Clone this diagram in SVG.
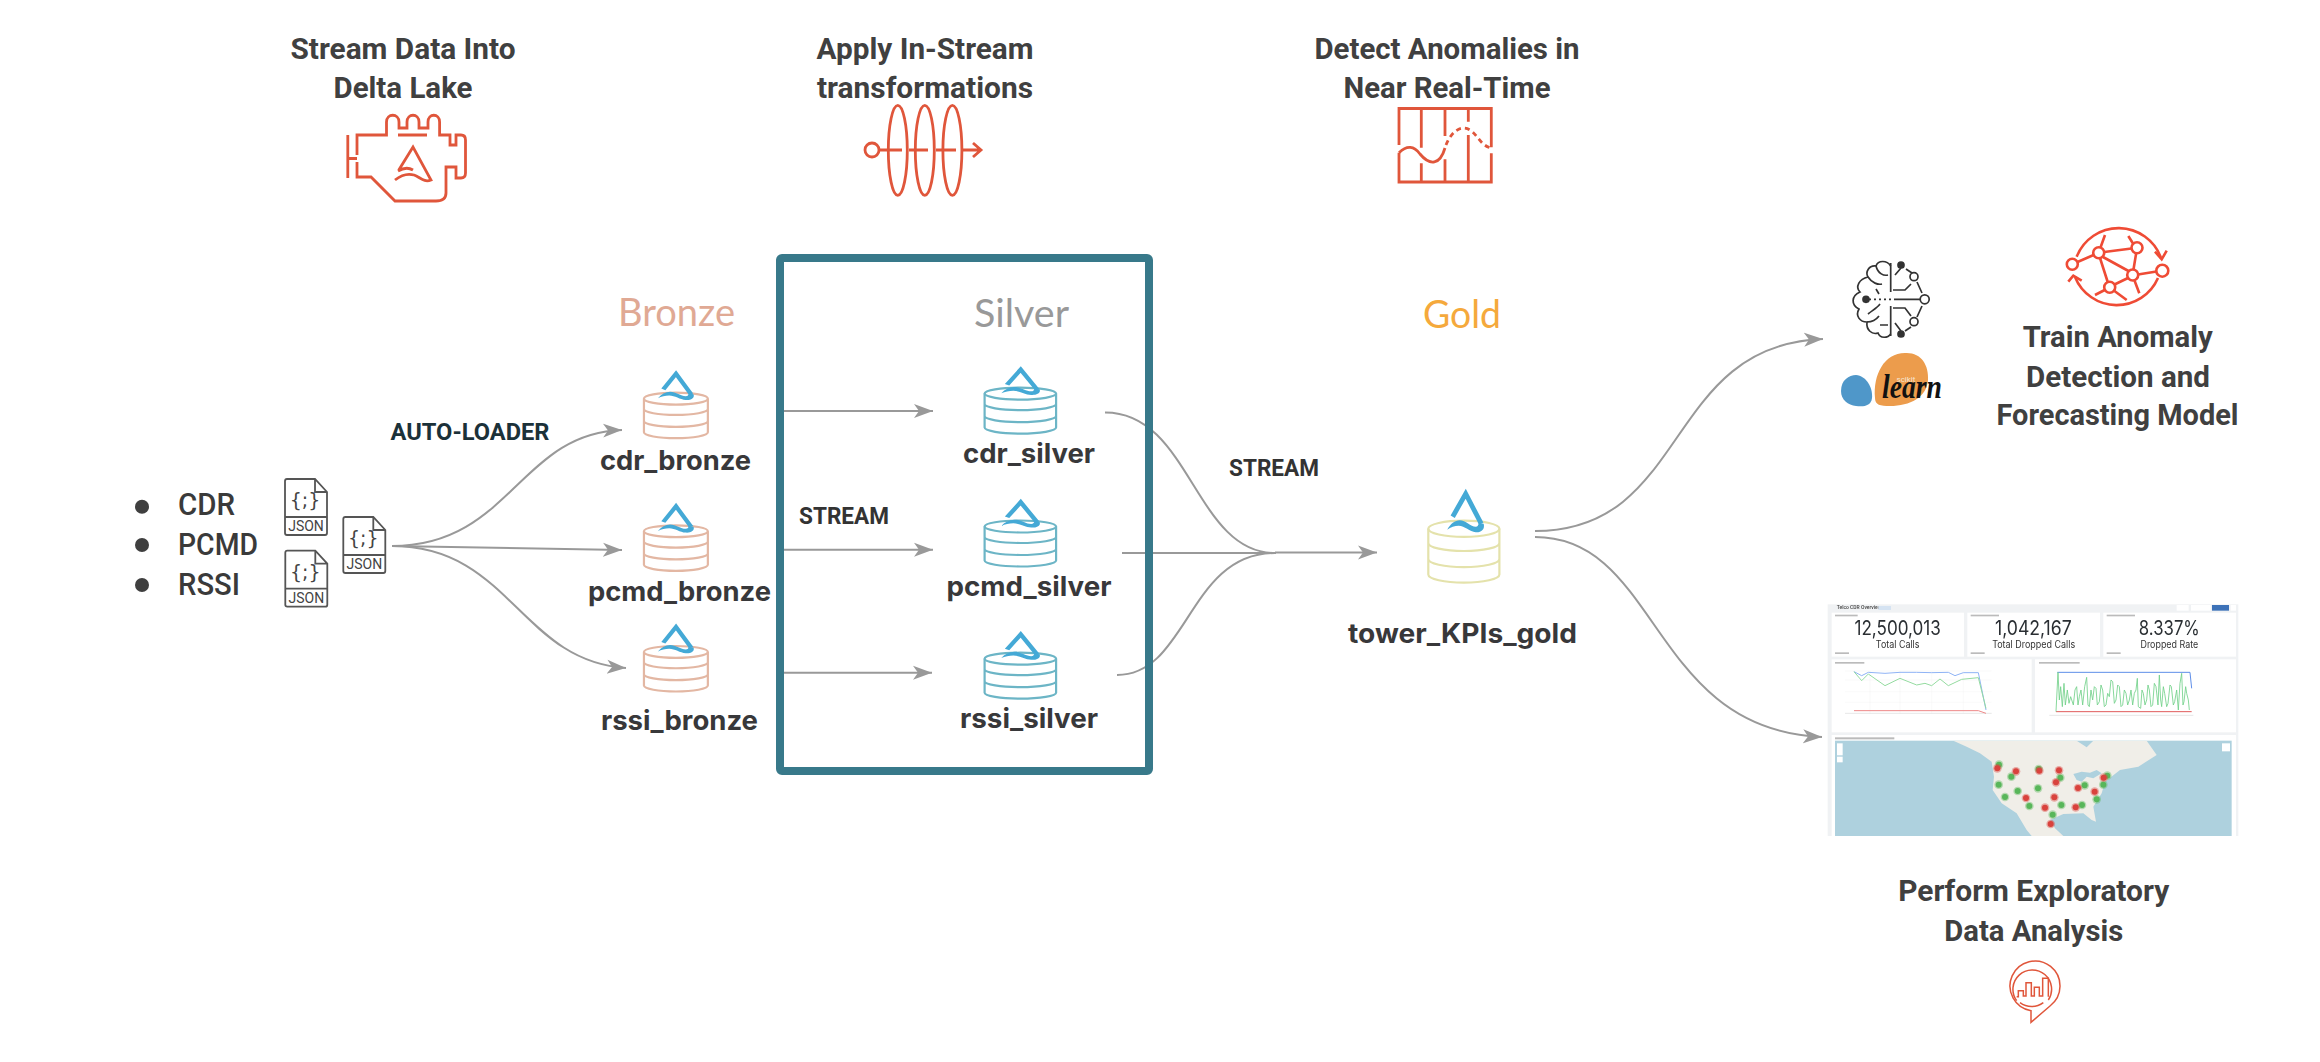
<svg xmlns="http://www.w3.org/2000/svg" width="2320" height="1062" viewBox="0 0 2320 1062">
<style>
text{font-family:"Roboto","Liberation Sans",sans-serif}
.title{font-size:29px;font-weight:700;fill:#404040;text-anchor:middle}
.tier{font-family:"Lato","Open Sans",sans-serif;font-size:39px;text-anchor:middle}
.tbl{font-family:"Inter","Liberation Sans",sans-serif;font-size:27px;font-weight:700;fill:#38383a;text-anchor:middle}
.lab{font-size:23px;font-weight:700;fill:#333;text-anchor:middle}
.src{font-size:32px;font-weight:500;fill:#3a3a3a}
.conn{fill:none;stroke:#999;stroke-width:2}
.ico{fill:none;stroke:#e0563b;stroke-width:2.8}
.net{fill:none;stroke:#ef4b35;stroke-width:2.6}
.brain{fill:none;stroke:#333;stroke-width:1.7}
.doc{fill:#fff;stroke:#555;stroke-width:1.8}
.jt{font-size:14px;fill:#444;text-anchor:middle}
.jb{font-family:"DejaVu Sans",sans-serif;font-size:19px;fill:#444;text-anchor:middle}
.card{fill:#fff}
.big{font-family:"Inter","Liberation Sans",sans-serif;font-size:60px;fill:#2a2f33;text-anchor:middle}
.sub{font-family:"Inter","Liberation Sans",sans-serif;font-size:30px;fill:#333;text-anchor:middle}
.bar{fill:#bbb}
.halo-r{fill:#d9423c;fill-opacity:.4}
.halo-g{fill:#59b65a;fill-opacity:.4}
</style>
<defs>
<filter id="soft" x="-2%" y="-2%" width="104%" height="104%"><feGaussianBlur stdDeviation="1.3"/></filter>
<marker id="arr" markerUnits="userSpaceOnUse" markerWidth="24" markerHeight="18" refX="19" refY="9" orient="auto"><path d="M0,2 L19,9 L0,16 L5,9 Z" fill="#999"/></marker>
<symbol id="cyl" viewBox="0 0 72 48" preserveAspectRatio="none" overflow="visible">
<g fill="none" stroke-width="2.2">
<ellipse cx="36" cy="7" rx="35.4" ry="6" vector-effect="non-scaling-stroke"/>
<path vector-effect="non-scaling-stroke" d="M.6,7V41A35.4,6 0 0 0 71.4,41V7M.6,17.5A35.4,6 0 0 0 71.4,17.5M.6,29.5A35.4,6 0 0 0 71.4,29.5"/>
</g>
</symbol>
<symbol id="delta" viewBox="-20 -2 40 46" preserveAspectRatio="none" overflow="visible">
<path d="M-13,26 L0,3 L15.500,33" fill="none" stroke="#44a9d6" stroke-width="4.800" stroke-linejoin="miter"/>
<path d="M13,32 L18,33 C19.500,39 15,42 10,41.500 C4,41 -1,35 -7,35 C-11,35 -15,36.500 -18.500,39 C-15,33 -11,29.500 -6,29.500 C0,29.500 5,36 10,36 C12,36 13,34 13,32 Z" fill="#44a9d6"/>
</symbol>
</defs>

<g id="connectors">
<path class="conn" marker-end="url(#arr)" d="M392,546 C510,546 520,433 622,430"/>
<path class="conn" marker-end="url(#arr)" d="M392,546 L622,550"/>
<path class="conn" marker-end="url(#arr)" d="M392,546 C510,546 520,661 626,668"/>
<path class="conn" marker-end="url(#arr)" d="M778,411 H933"/>
<path class="conn" marker-end="url(#arr)" d="M778,549.700 H933"/>
<path class="conn" marker-end="url(#arr)" d="M778,672.700 H932"/>
<path class="conn" d="M1105,412.400 C1190,412 1195,553 1275,553"/>
<path class="conn" d="M1122,553 H1276"/>
<path class="conn" d="M1117,675 C1188,675 1188,553 1275,553"/>
<path class="conn" marker-end="url(#arr)" d="M1275,552.500 H1377"/>
<path class="conn" marker-end="url(#arr)" d="M1535,531 C1690,531 1663,345 1823,339"/>
<path class="conn" marker-end="url(#arr)" d="M1535,537 C1660,537 1650,730 1822,737"/>
</g>

<g id="silver-box"><rect x="780" y="258" width="369" height="513" rx="2" fill="none" stroke="#38798a" stroke-width="8"/></g>

<g id="title-stream"><text class="title" x="403" y="59" textLength="225" lengthAdjust="spacingAndGlyphs">Stream Data Into</text><text class="title" x="403" y="98" textLength="139" lengthAdjust="spacingAndGlyphs">Delta Lake</text></g>
<g id="icon-engine" class="ico">
<path d="M357,155 V135 H386.500 V122 C386.500,113 399,113 399,122 V128 H407 V122 C407,113 419,113 419,122 V128 H428 V122 C428,113 439.600,113 439.600,122 V135 H450 V145 H456 V135 H461 Q465.500,135 465.500,140 V173 Q465.500,178 461,178 H456 V167 H446 V193 Q446,201 436,201 H395 L371,177 H357 V162"/>
<path d="M398,135 H427 M347.800,135 V178 M347.800,158.500 H357"/>
<path d="M398.800,170 L413,147 L431,180 C424,183 420,177 414,175 C407,173 400,176 395,180 M398,171 C403,168 408,167 413,170"/>
</g>

<g id="title-transform"><text class="title" x="925" y="59" textLength="217" lengthAdjust="spacingAndGlyphs">Apply In-Stream</text><text class="title" x="925" y="98" textLength="216" lengthAdjust="spacingAndGlyphs">transformations</text></g>
<g id="icon-transform" class="ico">
<circle cx="872" cy="150" r="7"/>
<ellipse cx="897.800" cy="150.300" rx="9.500" ry="45"/><ellipse cx="924.800" cy="150.300" rx="9.500" ry="45"/><ellipse cx="952.400" cy="150.300" rx="9.500" ry="45"/>
<path d="M879,150 H902 M909,150 H928 M936,150 H956 M963,150 H980 M973,143 L981,150 L973,157"/>
</g>

<g id="title-detect"><text class="title" x="1447" y="59" textLength="265" lengthAdjust="spacingAndGlyphs">Detect Anomalies in</text><text class="title" x="1447" y="98" textLength="207" lengthAdjust="spacingAndGlyphs">Near Real-Time</text></g>
<g id="icon-detect" class="ico">
<path d="M1399,145 V108.500 H1491.300 V147.300 M1491.300,153.300 V182 H1399 V152.700 M1421.300,108.500 V147.700 M1421.300,163.300 V182 M1445,108.500 V136 M1445,159.300 V182 M1468.300,108.500 V121.700 M1468.300,135 V182"/>
<path d="M1399,152.700 C1407,145 1414,146 1420,154 C1430,166 1440,165 1445,148"/>
<path stroke-dasharray="5 4" d="M1446,145 C1452,130 1462,125 1470,130 C1478,135 1480,145 1491,148"/>
</g>

<g id="tier-bronze"><text class="tier" x="676.500" y="326" fill="#e0a994" textLength="117" lengthAdjust="spacingAndGlyphs">Bronze</text></g>
<g id="tier-silver"><text class="tier" x="1021.500" y="327" fill="#999" textLength="95" lengthAdjust="spacingAndGlyphs">Silver</text></g>
<g id="tier-gold"><text class="tier" x="1462" y="328" fill="#f5a93c" textLength="78" lengthAdjust="spacingAndGlyphs">Gold</text></g>

<g id="labels-edges">
<text class="lab" x="470" y="439.500" style="fill:#1b3139" textLength="159" lengthAdjust="spacingAndGlyphs">AUTO-LOADER</text>
<text class="lab" x="844" y="523.500" textLength="90" lengthAdjust="spacingAndGlyphs">STREAM</text>
<text class="lab" x="1274" y="475.500" textLength="90" lengthAdjust="spacingAndGlyphs">STREAM</text>
</g>

<g id="sources">
<circle cx="142" cy="506.700" r="7" fill="#3f3f3f"/><circle cx="142" cy="545" r="7" fill="#3f3f3f"/><circle cx="142" cy="585" r="7" fill="#3f3f3f"/>
<text class="src" x="178" y="515" textLength="57" lengthAdjust="spacingAndGlyphs">CDR</text>
<text class="src" x="178" y="554.500" textLength="80" lengthAdjust="spacingAndGlyphs">PCMD</text>
<text class="src" x="178" y="594.500" textLength="62" lengthAdjust="spacingAndGlyphs">RSSI</text>
</g>

<g id="json-1" transform="translate(284,479)"><path class="doc" d="M1,2 Q1,0 3,0 H31 L43,13 V54 Q43,56 41,56 H3 Q1,56 1,54 Z M31,0 V13 H43 M1,38 H43"/><text class="jb" x="21" y="28">{;}</text><text class="jt" x="22" y="52">JSON</text></g>
<g id="json-2" transform="translate(284.300,550.700)"><path class="doc" d="M1,2 Q1,0 3,0 H31 L43,13 V54 Q43,56 41,56 H3 Q1,56 1,54 Z M31,0 V13 H43 M1,38 H43"/><text class="jb" x="21" y="28">{;}</text><text class="jt" x="22" y="52">JSON</text></g>
<g id="json-3" transform="translate(342.300,517)"><path class="doc" d="M1,2 Q1,0 3,0 H31 L43,13 V54 Q43,56 41,56 H3 Q1,56 1,54 Z M31,0 V13 H43 M1,38 H43"/><text class="jb" x="21" y="28">{;}</text><text class="jt" x="22" y="52">JSON</text></g>

<g id="cdr_bronze"><use href="#cyl" x="643.400" y="391.700" width="65" height="47.500" stroke="#e3b7a3"/><use href="#delta" x="656.500" y="370.300" width="39" height="31.400"/><text class="tbl" x="675.500" y="469.500" textLength="151" lengthAdjust="spacingAndGlyphs">cdr_bronze</text></g>
<g id="pcmd_bronze"><use href="#cyl" x="643.400" y="524.300" width="65" height="47.500" stroke="#e3b7a3"/><use href="#delta" x="656.500" y="502.900" width="39" height="31.400"/><text class="tbl" x="679.500" y="600.500" textLength="183" lengthAdjust="spacingAndGlyphs">pcmd_bronze</text></g>
<g id="rssi_bronze"><use href="#cyl" x="643.400" y="645" width="65" height="47.500" stroke="#e3b7a3"/><use href="#delta" x="656.500" y="623.600" width="39" height="31.400"/><text class="tbl" x="679.500" y="729.500" textLength="157" lengthAdjust="spacingAndGlyphs">rssi_bronze</text></g>

<g id="cdr_silver"><use href="#cyl" x="984" y="386.600" width="72.700" height="48" stroke="#6cb5c6"/><use href="#delta" x="999.700" y="366.300" width="42" height="30.300"/><text class="tbl" x="1029" y="462.900" textLength="132" lengthAdjust="spacingAndGlyphs">cdr_silver</text></g>
<g id="pcmd_silver"><use href="#cyl" x="984" y="519.500" width="72.700" height="48" stroke="#6cb5c6"/><use href="#delta" x="999.700" y="498.900" width="42" height="30.300"/><text class="tbl" x="1029" y="595.800" textLength="165" lengthAdjust="spacingAndGlyphs">pcmd_silver</text></g>
<g id="rssi_silver"><use href="#cyl" x="984" y="651.700" width="72.700" height="48" stroke="#6cb5c6"/><use href="#delta" x="999.700" y="631.100" width="42" height="30.300"/><text class="tbl" x="1029" y="728" textLength="138" lengthAdjust="spacingAndGlyphs">rssi_silver</text></g>

<g id="tower_KPIs_gold"><use href="#cyl" x="1427.700" y="519.300" width="72.300" height="64.700" stroke="#e4e2ab"/><use href="#delta" x="1445.700" y="488.700" width="40" height="46"/><text class="tbl" x="1462.500" y="643" textLength="229" lengthAdjust="spacingAndGlyphs">tower_KPIs_gold</text></g>

<g id="icon-brain" class="brain">
<path d="M1890.700,263 V292 M1890.700,306 V336"/>
<path d="M1890.700,266 C1887,260 1878,260 1876,266 C1869,265 1865,272 1868,277 C1859,279 1855,287 1860,292 C1851,296 1851,305 1859,309 C1855,316 1860,322 1867,322 C1866,330 1872,335 1878,333 C1880,339 1888,338 1890.700,334"/>
<path d="M1876,266 C1878,274 1884,276 1888,275 M1868,277 C1872,283 1878,285 1882,284 M1876,289 L1879,294 M1868,314 C1873,310 1877,308 1880,304 M1867,322 C1873,322 1876,320 1879,316 M1880,325 H1888"/>
<path stroke-dasharray="2 3" d="M1869,299.300 H1895"/>
<path d="M1893,290 H1905 L1911,284 M1895,299.300 H1920 M1893,308 H1905 L1911,316 M1895,275 L1901,268 M1895,323 L1901,331 M1906,269 L1912,273 M1917,282 L1922,293 M1922,306 L1917,317 M1911,327 L1905,331"/>
<circle cx="1901" cy="265" r="3" fill="#333"/><circle cx="1901" cy="334" r="3" fill="#333"/><circle cx="1866" cy="299.300" r="3" fill="#333"/>
<circle cx="1914" cy="276.700" r="4"/><circle cx="1924.700" cy="299.300" r="4.500"/><circle cx="1914" cy="321.700" r="4"/>
</g>

<g id="logo-sklearn">
<path d="M1875,398 C1873,375 1884,353 1905,353 C1921,352 1929,365 1928,380 C1927,397 1910,406 1890,406 C1880,406 1875,405 1875,398 Z" fill="#ec9c4c"/>
<path d="M1841,391 C1841,380 1849,375 1856,375 C1866,376 1873,387 1872,398 C1871,406 1864,407 1856,406 C1848,405 1841,400 1841,391 Z" fill="#4f97c9"/>
<text x="1906" y="382" font-size="8" style="fill:#f7e6d2" text-anchor="middle">scikit</text>
<text x="1882" y="398" font-size="33" font-weight="700" font-style="italic" style="font-family:'Liberation Serif',serif" fill="#111" textLength="60" lengthAdjust="spacingAndGlyphs">learn</text>
</g>

<g id="icon-network" class="net">
<path d="M2076.700,256.700 A45,45 0 0 1 2161,258 M2158,278 A45,45 0 0 1 2075,277"/>
<path d="M2155,251.700 L2161.700,259.300 L2166.700,250.700 M2068.300,281.700 L2073.300,275.700 L2081.700,280.700"/>
<path d="M2077.500,262 L2093.500,255 M2104.200,252 L2131.500,248.500 M2100.500,247.500 L2105,235 M2133,243.500 L2128.300,236 M2136.200,253 L2133.500,269.500 M2103,257 L2128.500,271 M2100,258 L2107.700,282 M2128,278 L2114.500,284.500 M2138,274.500 L2156.500,271.500 M2134.500,280.500 L2139.300,293.300 M2104.700,290 L2095,295 M2114.500,291 L2126.700,300"/>
<circle cx="2072.300" cy="264.300" r="5.500"/><circle cx="2098.700" cy="252.700" r="5.500"/><circle cx="2137" cy="247.700" r="5.500"/><circle cx="2162.300" cy="270.700" r="6"/><circle cx="2132.700" cy="275" r="5.500"/><circle cx="2109.700" cy="287.300" r="5.500"/>
</g>

<g id="title-train"><text class="title" x="2117.700" y="346.500" textLength="190" lengthAdjust="spacingAndGlyphs">Train Anomaly</text><text class="title" x="2118" y="386.500" textLength="184" lengthAdjust="spacingAndGlyphs">Detection and</text><text class="title" x="2117.500" y="424.500" textLength="242" lengthAdjust="spacingAndGlyphs">Forecasting Model</text></g>

<g id="dashboard" transform="translate(1810,590) scale(.33333)" filter="url(#soft)">
<rect x="53" y="43" width="1232" height="695" fill="#f0f2f4"/>
<text x="80" y="58" font-size="15" font-weight="500" style="fill:#444">Telco CDR Overview</text>
<rect x="205" y="48" width="38" height="12" fill="#d5e3f2"/>
<rect x="1100" y="45" width="36" height="17" class="card"/><rect x="1143" y="45" width="59" height="17" class="card"/><rect x="1206" y="45" width="51" height="17" fill="#3c72b8"/><rect x="1262" y="45" width="16" height="17" class="card"/>
<rect class="card" x="65" y="68" width="397" height="132"/><rect class="card" x="472" y="68" width="398" height="132"/><rect class="card" x="880" y="68" width="398" height="132"/>
<rect class="card" x="65" y="208" width="600" height="219"/><rect class="card" x="675" y="208" width="603" height="219"/><rect class="card" x="65" y="435" width="1213" height="303"/>
<rect class="bar" x="75" y="74" width="68" height="5"/><rect class="bar" x="482" y="74" width="85" height="5"/><rect class="bar" x="890" y="74" width="85" height="5"/>
<rect class="bar" x="75" y="187" width="42" height="5"/><rect class="bar" x="482" y="187" width="42" height="5"/><rect class="bar" x="890" y="187" width="42" height="5"/>
<rect class="bar" x="75" y="216" width="88" height="5"/><rect class="bar" x="687" y="216" width="122" height="5"/><rect class="bar" x="75" y="442" width="178" height="6"/>
<text class="big" x="263" y="135" textLength="259" lengthAdjust="spacingAndGlyphs">12,500,013</text><text class="sub" x="263" y="173" textLength="131" lengthAdjust="spacingAndGlyphs">Total Calls</text>
<text class="big" x="670" y="135" textLength="230" lengthAdjust="spacingAndGlyphs">1,042,167</text><text class="sub" x="671" y="173" textLength="249" lengthAdjust="spacingAndGlyphs">Total Dropped Calls</text>
<text class="big" x="1078" y="135" textLength="183" lengthAdjust="spacingAndGlyphs">8.337%</text><text class="sub" x="1078" y="173" textLength="173" lengthAdjust="spacingAndGlyphs">Dropped Rate</text>
<path d="M105,243 H545 M105,270 H545 M105,305 H545 M105,337 H545 M180,243 V370 M270,243 V370 M365,243 V370 M460,243 V370" stroke="#f0f0f0" stroke-width="1" fill="none"/>
<path d="M105,370 H545 M718,376 H1150" stroke="#ccc" stroke-width="1.500" fill="none"/>
<polyline fill="none" stroke="#8fb3f5" stroke-width="3" points="132,245 155,257 175,247 225,250 270,247 320,247 365,248 415,247 435,257 460,248 505,248 528,360"/>
<polyline fill="none" stroke="#94dba0" stroke-width="3" points="132,245 155,272 175,252 225,287 270,265 320,285 345,280 365,287 390,267 415,287 455,268 505,263 528,355"/>
<polyline fill="none" stroke="#e88" stroke-width="3" points="132,362 505,362 528,370"/>
<polyline fill="none" stroke="#5d8ee8" stroke-width="3" points="742,247 1140,247 1145,295"/>
<polyline fill="none" stroke="#e05a5a" stroke-width="3" points="738,365 1145,365"/>
<polyline fill="none" stroke="#70d088" stroke-width="2.500" points="738,365 744,247 748,330 752,290 757,350 762,280 766,345 772,300 777,340 782,320 790,345 795,300 800,290 804,345 808,320 813,300 818,345 824,290 830,262 834,345 838,350 843,300 848,330 853,290 858,295 862,345 868,335 873,285 878,300 883,350 888,345 893,310 898,320 903,270 908,275 913,340 918,330 923,285 928,290 933,350 938,345 943,300 948,310 953,345 958,330 963,300 968,345 973,310 978,300 982,265 985,350 992,355 996,300 1000,310 1005,345 1010,330 1014,285 1018,300 1023,350 1028,345 1033,280 1038,290 1044,345 1048,255 1052,330 1055,350 1060,290 1064,310 1070,350 1074,340 1080,285 1084,290 1090,345 1094,335 1100,300 1105,360 1110,280 1115,250 1119,345 1122,335 1127,290 1130,310 1135,330 1138,360"/>
<rect x="75" y="452" width="1190" height="286" fill="#aed1de"/>
<path d="M430,452 L470,470 L510,490 L545,515 L552,560 L548,600 L575,640 L620,670 L650,720 L665,738 L760,738 L735,715 L720,690 L760,672 L820,670 L845,690 L858,695 L850,650 L875,610 L885,575 L930,540 L985,530 L1040,495 L1010,452 L850,452 L830,472 L800,452 Z" fill="#f0eee8"/>
<path d="M790,552 L815,545 L840,548 L860,540 L875,550 L850,565 L830,560 L815,575 L800,570 Z" fill="#aed1de"/>
<g>
<circle class="halo-g" cx="567" cy="524" r="13"/><circle cx="567" cy="524" r="9" fill="#59b65a"/><circle class="halo-g" cx="604" cy="560" r="13"/><circle cx="604" cy="560" r="9" fill="#59b65a"/><circle class="halo-g" cx="686" cy="537" r="13"/><circle cx="686" cy="537" r="9" fill="#59b65a"/><circle class="halo-g" cx="751" cy="563" r="13"/><circle cx="751" cy="563" r="9" fill="#59b65a"/><circle class="halo-g" cx="566" cy="584" r="13"/><circle cx="566" cy="584" r="9" fill="#59b65a"/><circle class="halo-g" cx="623" cy="603" r="13"/><circle cx="623" cy="603" r="9" fill="#59b65a"/><circle class="halo-g" cx="684" cy="595" r="13"/><circle cx="684" cy="595" r="9" fill="#59b65a"/><circle class="halo-g" cx="824" cy="586" r="13"/><circle cx="824" cy="586" r="9" fill="#59b65a"/><circle class="halo-g" cx="880" cy="584" r="13"/><circle cx="880" cy="584" r="9" fill="#59b65a"/><circle class="halo-g" cx="892" cy="557" r="13"/><circle cx="892" cy="557" r="9" fill="#59b65a"/><circle class="halo-g" cx="860" cy="628" r="13"/><circle cx="860" cy="628" r="9" fill="#59b65a"/><circle class="halo-g" cx="754" cy="645" r="13"/><circle cx="754" cy="645" r="9" fill="#59b65a"/><circle class="halo-g" cx="816" cy="645" r="13"/><circle cx="816" cy="645" r="9" fill="#59b65a"/><circle class="halo-g" cx="658" cy="648" r="13"/><circle cx="658" cy="648" r="9" fill="#59b65a"/><circle class="halo-g" cx="728" cy="674" r="13"/><circle cx="728" cy="674" r="9" fill="#59b65a"/><circle class="halo-g" cx="585" cy="621" r="13"/><circle cx="585" cy="621" r="9" fill="#59b65a"/>
<circle class="halo-r" cx="562" cy="535" r="13"/><circle cx="562" cy="535" r="9" fill="#d9423c"/><circle class="halo-r" cx="618" cy="544" r="13"/><circle cx="618" cy="544" r="9" fill="#d9423c"/><circle class="halo-r" cx="688" cy="542" r="13"/><circle cx="688" cy="542" r="9" fill="#d9423c"/><circle class="halo-r" cx="747" cy="541" r="13"/><circle cx="747" cy="541" r="9" fill="#d9423c"/><circle class="halo-r" cx="738" cy="577" r="13"/><circle cx="738" cy="577" r="9" fill="#d9423c"/><circle class="halo-r" cx="881" cy="563" r="13"/><circle cx="881" cy="563" r="9" fill="#d9423c"/><circle class="halo-r" cx="804" cy="594" r="13"/><circle cx="804" cy="594" r="9" fill="#d9423c"/><circle class="halo-r" cx="854" cy="605" r="13"/><circle cx="854" cy="605" r="9" fill="#d9423c"/><circle class="halo-r" cx="648" cy="624" r="13"/><circle cx="648" cy="624" r="9" fill="#d9423c"/><circle class="halo-r" cx="733" cy="622" r="13"/><circle cx="733" cy="622" r="9" fill="#d9423c"/><circle class="halo-r" cx="705" cy="653" r="13"/><circle cx="705" cy="653" r="9" fill="#d9423c"/><circle class="halo-r" cx="797" cy="652" r="13"/><circle cx="797" cy="652" r="9" fill="#d9423c"/><circle class="halo-r" cx="722" cy="702" r="13"/><circle cx="722" cy="702" r="9" fill="#d9423c"/>
</g>
<rect x="81" y="460" width="17" height="36" fill="#fff"/><rect x="81" y="500" width="17" height="17" fill="#fff"/><rect x="1236" y="460" width="24" height="24" fill="#fff"/>
</g>

<g id="title-eda"><text class="title" x="2033.700" y="900.500" textLength="271" lengthAdjust="spacingAndGlyphs">Perform Exploratory</text><text class="title" x="2033.800" y="940.500" textLength="179" lengthAdjust="spacingAndGlyphs">Data Analysis</text></g>
<g id="icon-eda" transform="translate(1840,850) scale(.33333)" fill="none" stroke="#e0563b" stroke-width="4.500">
<path d="M573,482 V517 L630,468 A75,75 0 1 0 573,482 Z"/>
<path d="M530,452 A58,58 0 1 1 625,450 M610,458 A58,58 0 0 1 540,458"/>
<path d="M530,440 H535 V422 H550 V438 H558 V398 H574 V438 H583 V412 H598 V438 H608 V385 H625 V440"/>
</g>
</svg>
